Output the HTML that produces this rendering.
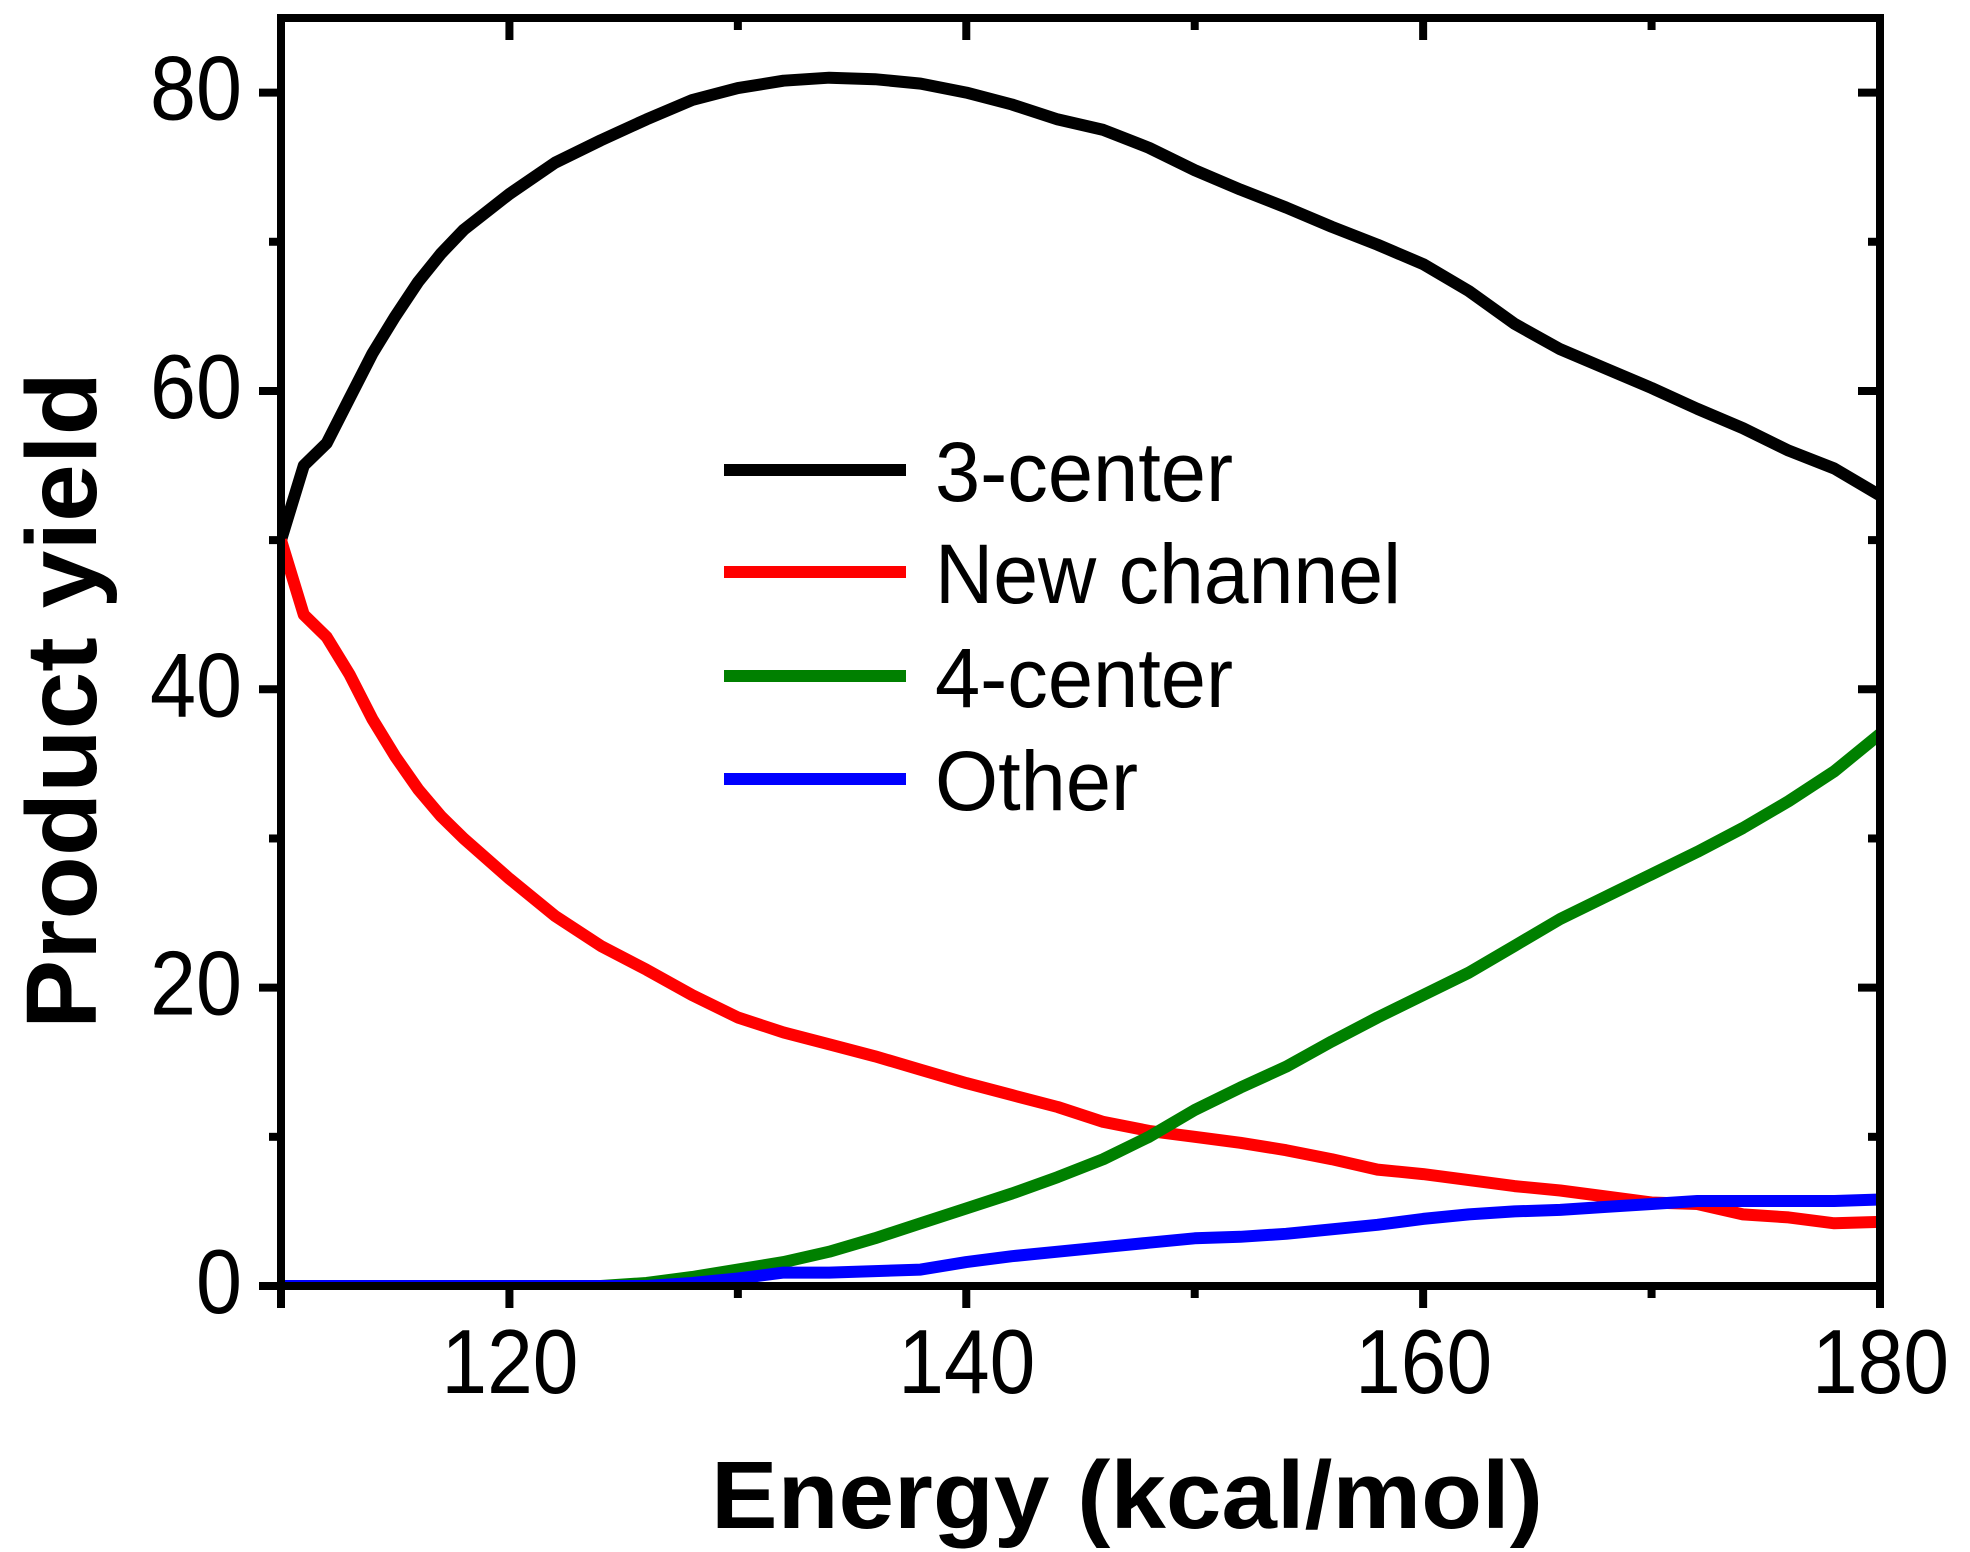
<!DOCTYPE html>
<html><head><meta charset="utf-8"><style>
html,body{margin:0;padding:0;background:#fff;}
svg{display:block;}
text{font-family:"Liberation Sans",sans-serif;}
</style></head><body>
<svg id="chart" width="1970" height="1552" viewBox="0 0 1970 1552" xmlns="http://www.w3.org/2000/svg">
<defs><clipPath id="pc"><rect x="281" y="18" width="1599" height="1268"/></clipPath></defs>
<g id="series" clip-path="url(#pc)"></g>
<g id="axes"></g>
<text x="711" y="1528" font-size="96" font-weight="bold" textLength="832" lengthAdjust="spacingAndGlyphs">Energy (kcal/mol)</text>
<text transform="translate(96,1029) rotate(-90)" font-size="100" font-weight="bold" textLength="657" lengthAdjust="spacingAndGlyphs">Product yield</text>
<g id="legend"></g>
</svg>
<script>
const energy=[110,111,112,113,114,115,116,117,118,120,122,124,126,128,130,132,134,136,138,140,142,144,146,148,150,152,154,156,158,160,162,164,166,168,170,172,174,176,178,180];
const threeCenter=[50,55,56.5,59.5,62.5,65,67.3,69.2,70.8,73.2,75.3,76.8,78.2,79.5,80.3,80.8,81,80.9,80.6,80,79.2,78.2,77.5,76.3,74.8,73.5,72.3,71,69.8,68.5,66.7,64.5,62.8,61.5,60.2,58.8,57.5,56,54.8,53];
const newChannel=[50,45,43.5,41,38,35.5,33.3,31.5,30,27.3,24.8,22.8,21.2,19.5,18,17,16.2,15.4,14.5,13.6,12.8,12,11,10.4,10,9.6,9.1,8.5,7.8,7.5,7.1,6.7,6.4,6.0,5.6,5.5,4.8,4.6,4.2,4.3];
const fourCenter=[0,0,0,0,0,0,0,0,0,0,0,0,0.2,0.6,1.1,1.6,2.3,3.2,4.2,5.2,6.2,7.3,8.5,10,11.8,13.3,14.7,16.4,18,19.5,21,22.8,24.6,26.1,27.6,29.1,30.7,32.5,34.5,37];
const other=[0,0,0,0,0,0,0,0,0,0,0,0,0,0.2,0.5,0.9,0.9,1.0,1.1,1.6,2.0,2.3,2.6,2.9,3.2,3.3,3.5,3.8,4.1,4.5,4.8,5.0,5.1,5.3,5.5,5.7,5.7,5.7,5.7,5.8];
const xTicks=[120,140,160,180];
const xMinor=[130,150,170];
const yTicks=[0,20,40,60,80];
const yMinor=[10,30,50,70];
const seriesNames=["3-center","New channel","4-center","Other"];

const NS="http://www.w3.org/2000/svg";
const X0=281,X1=1880,Y0=1286,Y1=18;
const xs=v=>X0+(v-110)/(180-110)*(X1-X0);
const ys=v=>Y0-(v/85)*(Y0-Y1);
function mk(tag,attrs,parent){const e=document.createElementNS(NS,tag);for(const k in attrs)e.setAttribute(k,attrs[k]);parent.appendChild(e);return e;}
const sg=document.getElementById('series');
const colors=["#000000","#ff0000","#008000","#0000ff"];
const data=[threeCenter,newChannel,fourCenter,other];
const keys=["three-center","new-channel","four-center","other"];
data.forEach((arr,i)=>{
  const d=arr.map((v,j)=>(j?'L':'M')+xs(energy[j]).toFixed(1)+','+ys(v).toFixed(1)).join(' ');
  const p=mk('path',{d:d,fill:'none',stroke:colors[i],'stroke-width':12,'stroke-linejoin':'round'},sg);
  
  
});
const ax=document.getElementById('axes');
const fr=mk('rect',{x:X0,y:Y1,width:X1-X0,height:Y0-Y1,fill:'none',stroke:'#000','stroke-width':8},ax);


xTicks.concat([110]).forEach(v=>{
  const x=xs(v);
  const t=mk('line',{x1:x,y1:Y0,x2:x,y2:Y0+22,stroke:'#000','stroke-width':8},ax);
  
  
  mk('line',{x1:x,y1:Y1,x2:x,y2:Y1+22,stroke:'#000','stroke-width':8},ax);
});
xMinor.forEach(v=>{
  const x=xs(v);
  mk('line',{x1:x,y1:Y0,x2:x,y2:Y0+12,stroke:'#000','stroke-width':8},ax);
  mk('line',{x1:x,y1:Y1,x2:x,y2:Y1+12,stroke:'#000','stroke-width':8},ax);
});
xTicks.forEach(v=>{
  const t=mk('text',{x:xs(v)-68,y:1393,'font-size':91,textLength:137,lengthAdjust:'spacingAndGlyphs'},ax);
  t.textContent=v;
  
  
});
yTicks.forEach(v=>{
  const y=ys(v);
  const t=mk('line',{x1:X0-22,y1:y,x2:X0,y2:y,stroke:'#000','stroke-width':8},ax);
  
  
  mk('line',{x1:X1,y1:y,x2:X1-22,y2:y,stroke:'#000','stroke-width':8},ax);
  const w=String(v).length*46;
  const l=mk('text',{x:242-w,y:y+27,'font-size':91,textLength:w,lengthAdjust:'spacingAndGlyphs'},ax);
  l.textContent=v;
  
  
});
yMinor.forEach(v=>{
  const y=ys(v);
  mk('line',{x1:X0-12,y1:y,x2:X0,y2:y,stroke:'#000','stroke-width':8},ax);
  mk('line',{x1:X1,y1:y,x2:X1-12,y2:y,stroke:'#000','stroke-width':8},ax);
});
const lg=document.getElementById('legend');
const ly=[470,572,676,779];
const lw=[298,466,298,203];
seriesNames.forEach((n,i)=>{
  const g=mk('g',{},lg);
  
  
  mk('line',{x1:724,y1:ly[i],x2:906,y2:ly[i],stroke:colors[i],'stroke-width':12},g);
  const t=mk('text',{x:935,y:ly[i]+31,'font-size':84,textLength:lw[i],lengthAdjust:'spacingAndGlyphs'},g);
  t.textContent=n;
});
</script>
</body></html>
